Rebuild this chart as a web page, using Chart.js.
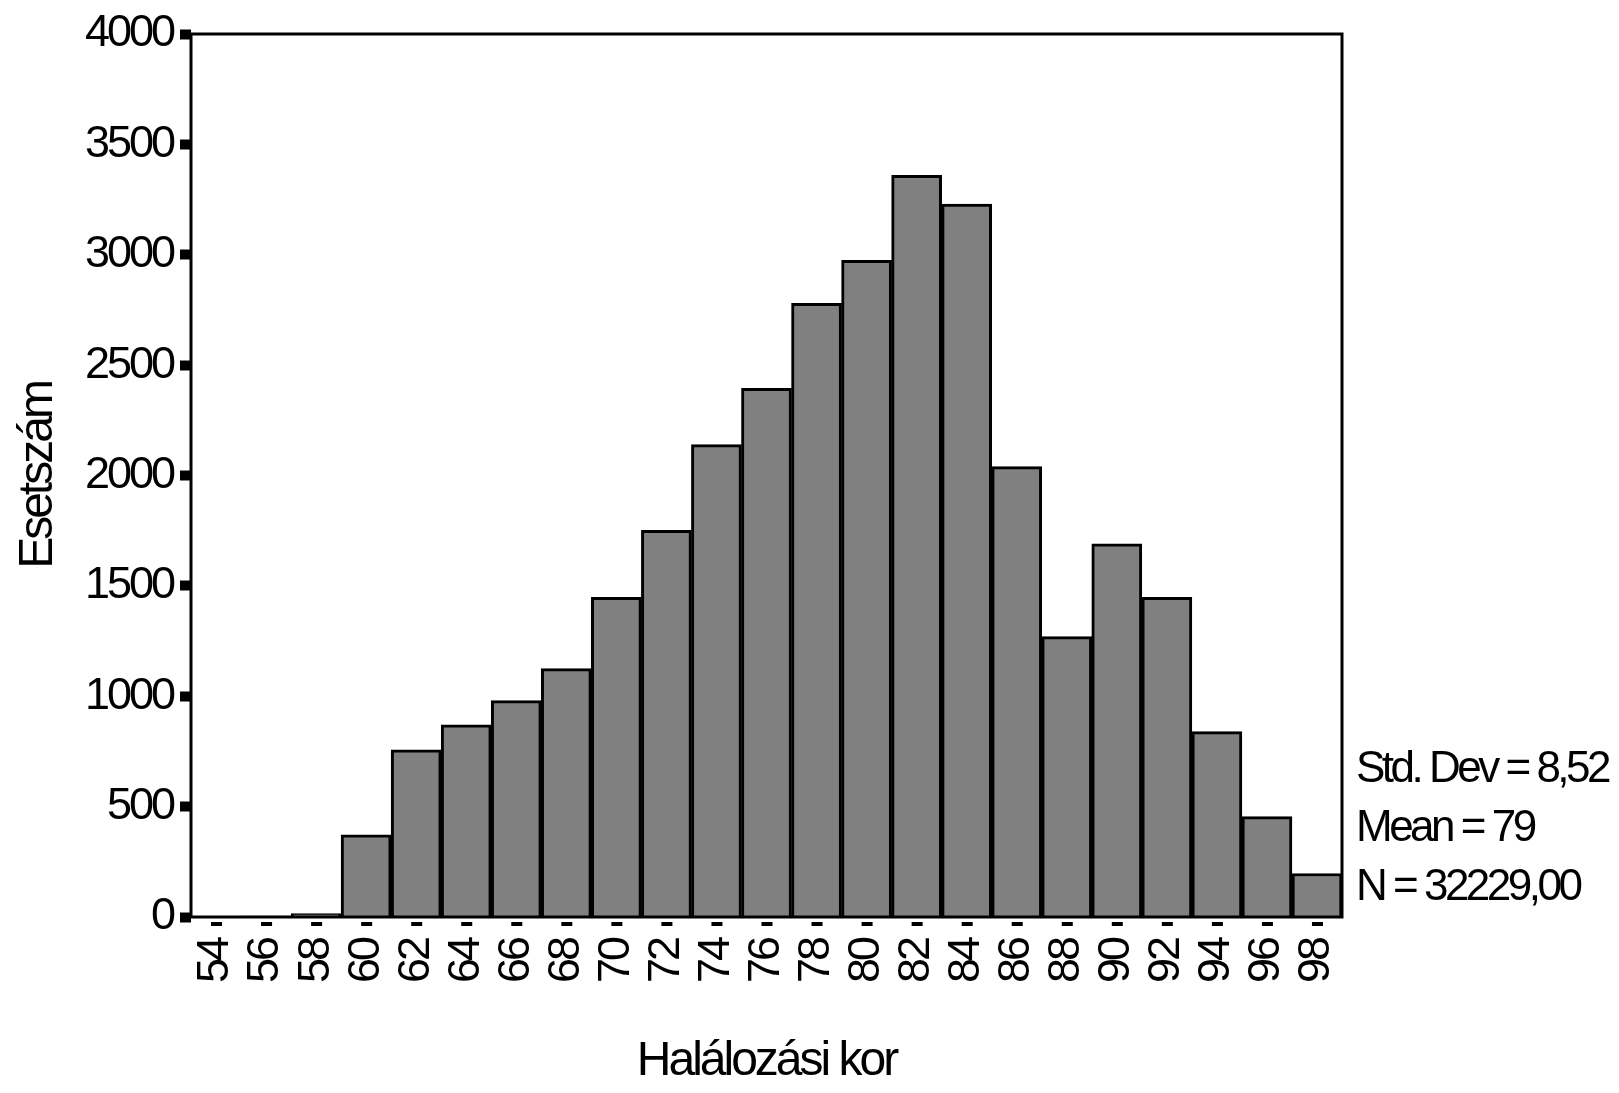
<!DOCTYPE html>
<html>
<head>
<meta charset="utf-8">
<script src="https://cdn.jsdelivr.net/npm/chart.js@4"></script>
<style>
  html, body { margin: 0; padding: 0; background: #ffffff; }
  #wrap { width: 1619px; height: 1093px; }
</style>
</head>
<body>
<div id="wrap"><canvas id="hist" width="1619" height="1093"></canvas></div>
<script>
const ages = ['54','56','58','60','62','64','66','68','70','72','74','76','78','80','82','84','86','88','90','92','94','96','98'];
const counts = [1,4,15,372,757,870,980,1125,1448,1752,2140,2395,2780,2975,3360,3230,2040,1270,1690,1448,840,455,197];
const yMax = 4000;
const yStep = 500;
const statLines = ['Std. Dev = 8,52', 'Mean = 79', 'N = 32229,00'];

const FONT = '"Liberation Sans", Arial, sans-serif';

// SPSS style: tight letters, frame round the plot, small dashes under each bar
const spssLook = {
    id: 'spssLook',
    beforeDraw(chart) {
        chart.ctx.letterSpacing = '-3px';
    },
    afterDatasetsDraw(chart) {
        const ctx = chart.ctx, a = chart.chartArea;
        ctx.save();
        ctx.strokeStyle = '#000';
        ctx.lineWidth = 3;
        ctx.strokeRect(a.left, a.top, a.right - a.left, a.bottom - a.top);
        const xs = chart.scales.x;
        ctx.fillStyle = '#000';
        xs.ticks.forEach((t, i) => {
            const px = xs.getPixelForTick(i);
            ctx.fillRect(px - 5, a.bottom + 5, 11, 4);
        });
        ctx.restore();
    },
    afterDraw(chart) {
        const ctx = chart.ctx, a = chart.chartArea;
        ctx.save();
        ctx.letterSpacing = '-3.5px';
        ctx.fillStyle = '#000';
        ctx.font = '44px ' + FONT;
        ctx.textBaseline = 'middle';
        ctx.textAlign = 'left';
        statLines.forEach((s, i) => {
            ctx.fillText(s, a.right + 14, a.bottom - 147 + i * 59);
        });
        ctx.restore();
    }
};

const ctx1 = document.getElementById('hist').getContext('2d');
const histChart = new Chart(ctx1, {
    type: 'bar',
    data: {
        labels: ages,
        datasets: [{
            label: 'Esetszám',
            data: counts,
            backgroundColor: '#808080',
            borderColor: '#000000',
            borderWidth: 3,
            barPercentage: 1,
            categoryPercentage: 1
        }]
    },
    options: {
        responsive: false,
        animation: false,
        layout: { padding: { left: 0, top: 30, right: 277, bottom: 0 } },
        plugins: { legend: { display: false }, tooltip: { enabled: false } },
        scales: {
            x: {
                afterFit(s) { s.height = 176; },
                border: { display: false },
                grid: { display: true, drawOnChartArea: false, drawTicks: false },
                ticks: { color: '#000', font: { family: FONT, size: 45 }, minRotation: 90, maxRotation: 90, padding: 22, autoSkip: false },
                title: { display: true, text: 'Halálozási kor', color: '#000', font: { family: FONT, size: 48 }, padding: { top: 0, bottom: 2 } }
            },
            y: {
                min: 0,
                max: yMax,
                afterFit(s) { s.width = 191; },
                border: { display: false },
                grid: { drawOnChartArea: false, tickLength: 11, tickWidth: 10, tickColor: '#000' },
                ticks: { stepSize: yStep, color: '#000', font: { family: FONT, size: 45 }, padding: 7, callback: v => String(v) },
                title: { display: true, text: 'Esetszám', color: '#000', font: { family: FONT, size: 48 }, padding: { top: 10, bottom: 0 } }
            }
        }
    },
    plugins: [spssLook]
});
</script>
</body>
</html>
